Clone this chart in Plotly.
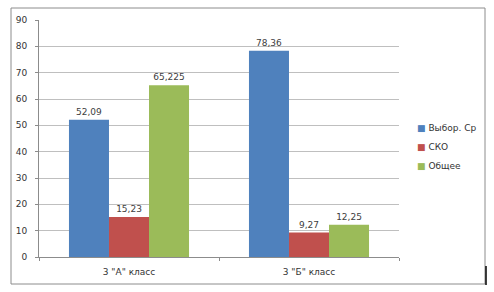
import plotly.graph_objects as go

categories = ['3 "А" класс', '3 "Б" класс']
series_names = ["Выбор. Ср", "СКО", "Общее"]
mean_vals = [52.09, 78.36]
sko_vals = [15.23, 9.27]
total_vals = [65.225, 12.25]
mean_labels = ["52,09", "78,36"]
sko_labels = ["15,23", "9,27"]
total_labels = ["65,225", "12,25"]
y_ticks = [0, 10, 20, 30, 40, 50, 60, 70, 80, 90]

colors = ["#4f81bd", "#c0504d", "#9bbb59"]
font = "DejaVu Sans"

fig = go.Figure()
for name, vals, labels, col in zip(series_names, [mean_vals, sko_vals, total_vals],
                                   [mean_labels, sko_labels, total_labels], colors):
    fig.add_trace(go.Bar(
        x=categories, y=vals, name=name, text=labels,
        textposition="outside", cliponaxis=False, showlegend=False,
        textfont=dict(family=font, size=9, color="#404040"),
        marker=dict(color=col, line=dict(width=0)),
    ))
# legend entries: small coloured square glyph followed by the name
for name, col in zip(series_names, colors):
    fig.add_trace(go.Scatter(
        x=[None], y=[None], mode="markers",
        name=f"<span style='color:{col}'>■</span> {name}",
        marker=dict(symbol="square", size=1, color="rgba(0,0,0,0)"),
    ))

fig.update_layout(
    width=494, height=292,
    margin=dict(l=39, r=95, t=20, b=35, autoexpand=False),
    paper_bgcolor="white", plot_bgcolor="white",
    barmode="group", bargap=0.333, bargroupgap=0,
    showlegend=True,
    legend=dict(x=(377 - 39) / 360, y=0.466, xanchor="left", yanchor="middle",
                font=dict(family=font, size=9, color="#333"),
                itemwidth=30, tracegroupgap=0, bgcolor="rgba(0,0,0,0)",
                traceorder="normal"),
    font=dict(family=font, size=9, color="#333"),
)
fig.update_yaxes(range=[0, 90], tickvals=y_ticks, showgrid=True, gridcolor="#bfbfbf",
                 gridwidth=1, showline=True, linecolor="#8c8c8c", ticks="outside",
                 ticklen=3, tickcolor="#8c8c8c", zeroline=False, ticklabelstandoff=6,
                 tickfont=dict(family=font, size=9, color="#333"))
fig.update_xaxes(showline=True, linecolor="#8c8c8c", ticks="outside", tickson="boundaries",
                 ticklen=3, tickcolor="#8c8c8c", ticklabelstandoff=6,
                 tickfont=dict(family=font, size=9, color="#333"))

# outer chart border
fig.add_shape(type="rect", xref="paper", yref="paper",
              x0=-28/360, x1=446/360, y0=-27/237, y1=249/237,
              line=dict(color="#8c8c8c", width=1), fillcolor="rgba(0,0,0,0)", layer="below")
# cursor mark
fig.add_shape(type="line", xref="paper", yref="paper",
              x0=447/360, x1=447/360, y0=-28/237, y1=-9/237,
              line=dict(color="#000", width=1.5))

fig.write_html("out.html", config={"displayModeBar": False},
               post_script="document.body.style.margin='0';")
